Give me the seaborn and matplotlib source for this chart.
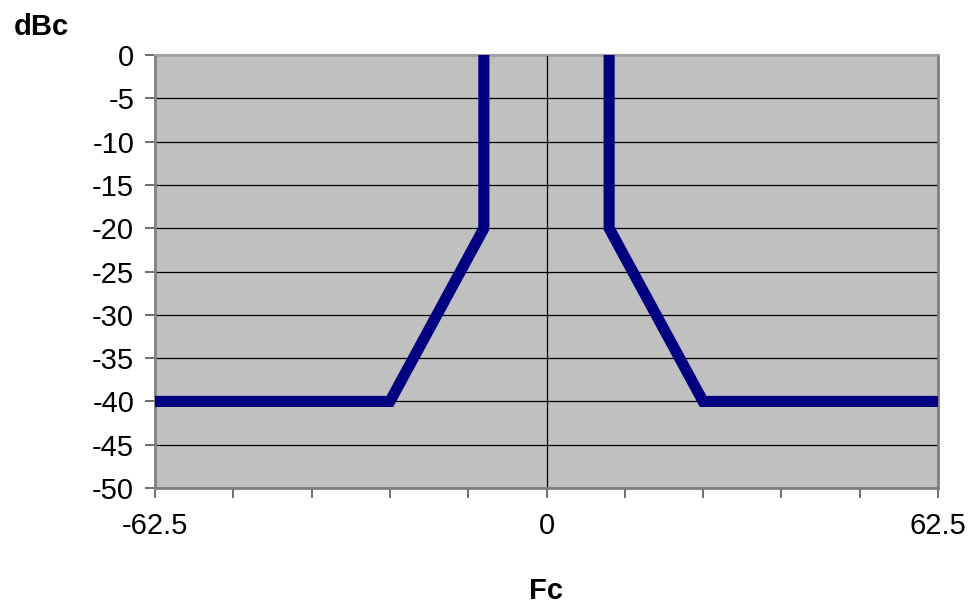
import numpy as np
import matplotlib
matplotlib.use("Agg")
import matplotlib.pyplot as plt
import seaborn as sns

# Spectral mask (frequency offset vs dBc)
freq = [-62.5, -25, -10, -10]
level = [-40, -40, -20, 0]
freq_r = [10, 10, 25, 62.5]
level_r = [0, -20, -40, -40]

x_ticks = [-62.5, -50, -37.5, -25, -12.5, 0, 12.5, 25, 37.5, 50, 62.5]
x_labels = ["-62.5", "", "", "", "", "0", "", "", "", "", "62.5"]
y_ticks = list(range(-50, 1, 5))

sns.set_style("white")
plt.rcParams['font.family'] = ['Liberation Sans', 'DejaVu Sans']
plt.rcParams['text.color'] = 'black'
plt.rcParams['xtick.labelcolor'] = 'black'
plt.rcParams['ytick.labelcolor'] = 'black'

fig = plt.figure(figsize=(9.69, 6.06), dpi=100)
ax = fig.add_axes([0.16, 0.1947, 0.808, 0.7143])
ax.set_facecolor("#c0c0c0")

for yv in y_ticks:
    ax.axhline(yv, color="black", lw=0.9, zorder=1)
ax.axvline(0, color="black", lw=0.9, zorder=1)

for xs, ys in [(freq, level), (freq_r, level_r)]:
    sns.lineplot(x=xs, y=ys, sort=False, estimator=None, color="#000080", lw=8,
                 solid_joinstyle="miter", solid_capstyle="round", ax=ax, zorder=3)

ax.set_xlim(-62.5, 62.5)
ax.set_ylim(-50, 0)
ax.set_xticks(x_ticks)
ax.set_xticklabels(x_labels, fontsize=21, color="black")
ax.set_yticks(y_ticks)
ax.set_yticklabels([str(v) for v in y_ticks], fontsize=21, color="black")
ax.tick_params(axis="both", direction="out", length=7, width=1.2, color="#555555",
               bottom=True, left=True)
ax.tick_params(axis="x", pad=10)
ax.tick_params(axis="y", pad=8)

for side in ["left", "bottom", "right"]:
    ax.spines[side].set_color("#808080")
    ax.spines[side].set_linewidth(2)
ax.spines["top"].set_color("#a0a0a0")
ax.spines["top"].set_linewidth(1.5)

ax.set_xlabel("")
ax.set_ylabel("")
fig.text(0.043, 0.955, "dBc", fontsize=21, fontweight="bold", color="black",
         ha="center", va="center")
fig.text(0.563, 0.025, "Fc", fontsize=21, fontweight="bold", color="black",
         ha="center", va="center")

fig.savefig("out.png", dpi=100)
